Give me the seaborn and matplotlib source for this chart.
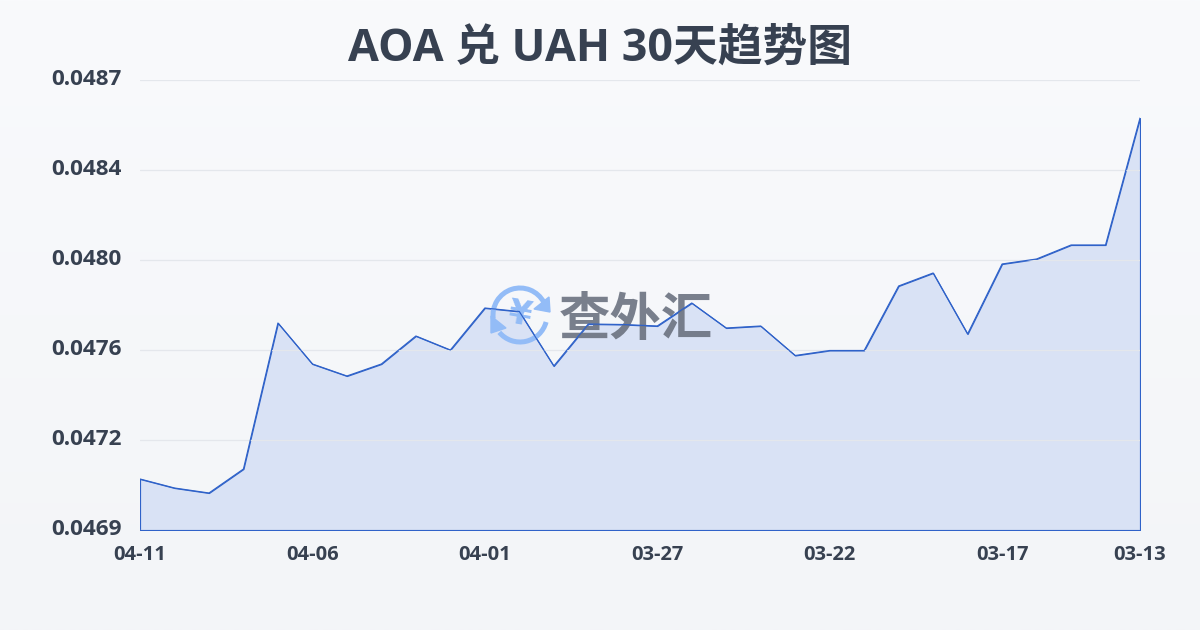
import numpy as np
import pandas as pd
import matplotlib
matplotlib.use("Agg")
import matplotlib.pyplot as plt
import seaborn as sns
from matplotlib.patches import Arc, Polygon
from matplotlib.transforms import Affine2D, ScaledTranslation

# donnees
dates = ["04-11", "04-10", "04-09", "04-08", "04-07", "04-06", "04-05", "04-04", "04-03", "04-02",
         "04-01", "03-31", "03-30", "03-29", "03-28", "03-27", "03-26", "03-25", "03-24", "03-23",
         "03-22", "03-21", "03-20", "03-19", "03-18", "03-17", "03-16", "03-15", "03-14", "03-13"]
rates = [0.047104, 0.047068, 0.047048, 0.047144, 0.047728, 0.047564, 0.047516, 0.047564, 0.047676, 0.047620,
         0.047788, 0.047774, 0.047556, 0.047724, 0.047722, 0.047716, 0.047808, 0.047708, 0.047716, 0.047598,
         0.047618, 0.047618, 0.047876, 0.047928, 0.047684, 0.047964, 0.047984, 0.048040, 0.048040, 0.048548]
x_ticks = ["04-11", "04-06", "04-01", "03-27", "03-22", "03-17", "03-13"]
y_ticks = [0.0469, 0.04726, 0.04762, 0.04798, 0.04834, 0.0487]
y_labels = ["0.0469", "0.0472", "0.0476", "0.0480", "0.0484", "0.0487"]

sns.set_theme(style="white")
plt.rcParams['font.family'] = ['Open Sans', 'Noto Sans CJK SC', 'DejaVu Sans']

df = pd.DataFrame({"date": dates, "rate": rates, "pos": range(len(dates))})
dark = "#374151"
blue = "#2f62c9"
logo = "#93bcf7"

fig = plt.figure(figsize=(12, 6.3), dpi=100)

# fond en degrade
bg = fig.add_axes([0, 0, 1, 1], zorder=0)
bg.imshow(np.linspace(0, 1, 256).reshape(-1, 1), aspect="auto", extent=(0, 1, 0, 1),
          cmap=matplotlib.colors.LinearSegmentedColormap.from_list("bg", ["#f9fafc", "#f3f5f8"]))
bg.axis("off")

ax = fig.add_axes([140 / 1200, 100 / 630, 1000 / 1200, 450 / 630], zorder=1)
ax.patch.set_visible(False)

# courbe et surface
ax.fill_between(df["pos"], df["rate"], y_ticks[0], facecolor="#d9e2f5", edgecolor=blue, linewidth=0.85, zorder=2)
sns.lineplot(ax=ax, data=df, x="pos", y="rate", color=blue, linewidth=0.85, zorder=4)

# axes
ax.set_xlim(0, len(dates) - 1)
ax.set_ylim(y_ticks[0], y_ticks[-1])
ax.set_xticks([dates.index(d) for d in x_ticks])
ax.set_xticklabels(x_ticks, fontsize=14.5, fontweight="bold", color=dark)
ax.set_yticks(y_ticks)
ax.set_yticklabels(y_labels, fontsize=16.2, fontweight="bold", color=dark)
ax.tick_params(axis="x", length=0, pad=11)
ax.tick_params(axis="y", length=0, pad=13)
# decalage de 2 px vers le haut pour les labels y
up = ScaledTranslation(0, 2 / 72, fig.dpi_scale_trans)
for lab in ax.get_yticklabels():
    lab.set_transform(lab.get_transform() + up)
ax.set_xlabel("")
ax.set_ylabel("")
ax.grid(visible=True, which="major", axis="y", color="#e4e7ec", linewidth=0.9, zorder=3)
ax.set_axisbelow(False)
for s in ax.spines.values():
    s.set_visible(False)

# filigrane, en pixels
pix = Affine2D().scale(1, -1).translate(0, 630)
ax.add_patch(Arc((520, 315), 54, 54, theta1=172, theta2=332, color=logo, linewidth=3.6, transform=pix, zorder=3, clip_on=False))
ax.add_patch(Arc((520, 315), 54, 54, theta1=15, theta2=140, color=logo, linewidth=3.6, transform=pix, zorder=3, clip_on=False))
ax.add_patch(Polygon([(549, 297), (550, 312), (534, 309)], color=logo, transform=pix, zorder=3))
ax.add_patch(Polygon([(491, 316), (491, 333), (506, 328)], color=logo, transform=pix, zorder=3))
ax.text(520, 315, "¥", transform=pix, fontsize=24, fontweight="bold", family=["DejaVu Sans"], color=logo, rotation=-10,
        ha="center", va="center", zorder=3)
ax.text(636, 322, "查外汇", transform=pix, fontsize=37, fontweight="bold", color="#6b7280", alpha=0.9,
        ha="center", va="center", zorder=3)

fig.text(0.5, 1 - 49 / 630, "AOA 兑 UAH 30天趋势图", fontsize=32.2, fontweight="bold", color=dark,
         ha="center", va="center")

plt.savefig("out.png", dpi=100)
